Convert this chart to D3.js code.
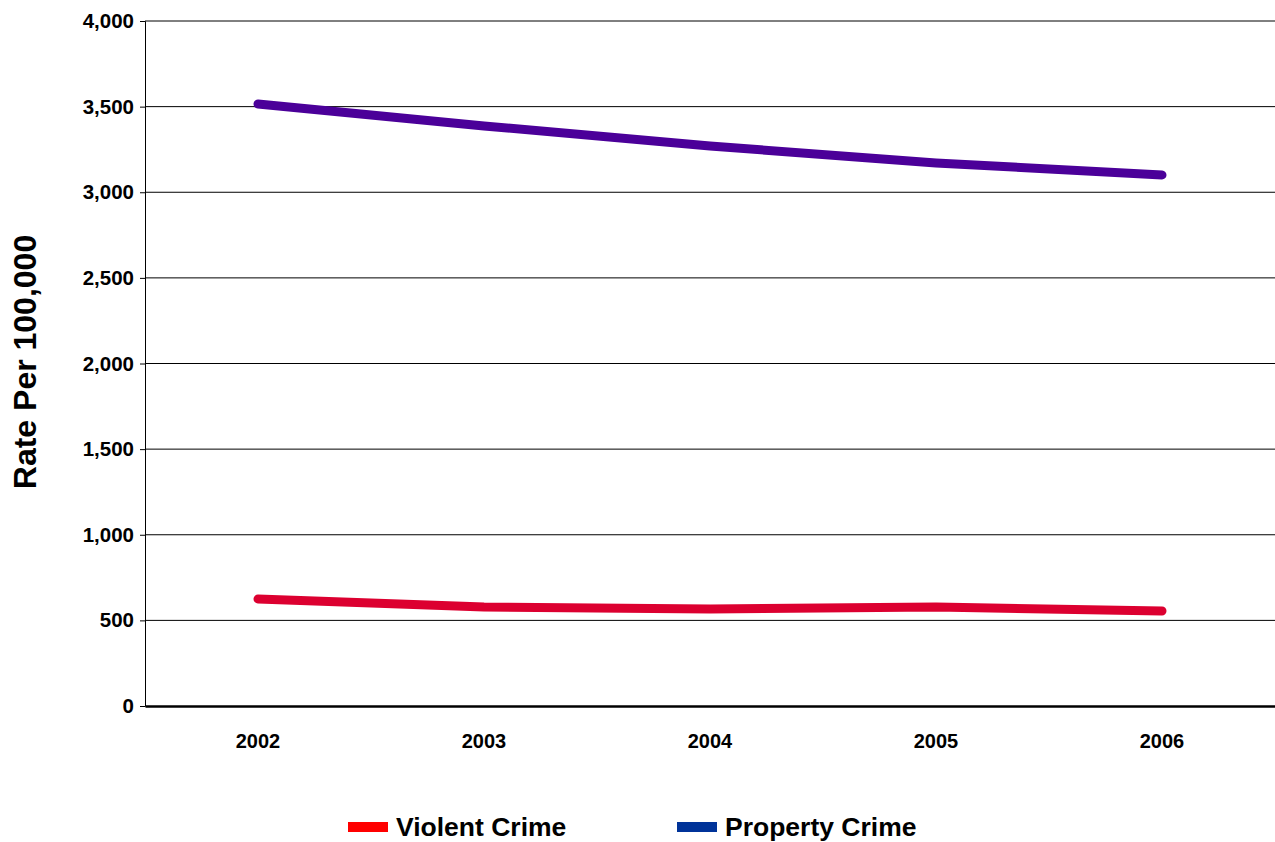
<!DOCTYPE html>
<html><head><meta charset="utf-8">
<script src="https://cdn.jsdelivr.net/npm/d3@7"></script>
<style>body{margin:0;background:#fff}svg{font-family:"Liberation Sans",Arial,sans-serif;font-weight:bold}</style>
</head><body><svg id="c" width="1275" height="842"></svg>
<script>
const years = ["2002","2003","2004","2005","2006"];
const violent = [625, 578, 566, 578, 555];
const property = [3515, 3387, 3270, 3171, 3101];
const yTicks = [0,500,1000,1500,2000,2500,3000,3500,4000];
const svg = d3.select("#c");
const L=145,R=1275,T=21,B=706;
const x = d3.scaleBand().domain(years).range([L,R]);
const y = d3.scaleLinear().domain([0,4000]).range([B,T]);
const fmt = d3.format(",");
svg.append("g").selectAll("line").data(yTicks.slice(1)).join("line")
 .attr("x1",L).attr("x2",R).attr("y1",d=>y(d)).attr("y2",d=>y(d)).attr("stroke","#000").attr("stroke-width",1);
const ya = svg.append("g").attr("transform",`translate(${L},0)`).call(d3.axisLeft(y).tickValues(yTicks).tickFormat(fmt).tickSize(5));
ya.selectAll("text").attr("font-size",20.5).attr("font-weight","bold").attr("fill","#000").attr("font-family","Liberation Sans, Arial").attr("dx",-3);
ya.select(".domain").attr("stroke","#000");
const xa = svg.append("g").attr("transform",`translate(0,${B})`).call(d3.axisBottom(x).tickSize(0).tickPadding(28));
xa.selectAll("text").attr("font-size",20).attr("font-weight","bold").attr("fill","#000").attr("font-family","Liberation Sans, Arial");
xa.select(".domain").attr("stroke","#000").attr("stroke-width",2.5);
svg.append("text").attr("transform","translate(36,362) rotate(-90)").attr("text-anchor","middle").attr("font-size",32).text("Rate Per 100,000");
const line = d3.line().x((d,i)=>x(years[i])+x.bandwidth()/2).y(d=>y(d));
svg.append("path").datum(property).attr("d",line).attr("fill","none").attr("stroke","#4B0099").attr("stroke-width",9).attr("stroke-linecap","round");
svg.append("path").datum(violent).attr("d",line).attr("fill","none").attr("stroke","#DC0030").attr("stroke-width",9).attr("stroke-linecap","round");
const leg=[["Violent Crime","#FF0000",348],["Property Crime","#003399",677]];
leg.forEach(([t,c,lx])=>{
 svg.append("rect").attr("x",lx).attr("y",822).attr("width",40).attr("height",10).attr("fill",c);
 svg.append("text").attr("x",lx+48).attr("y",836).attr("font-size",26.5).text(t);
});
</script></body></html>
